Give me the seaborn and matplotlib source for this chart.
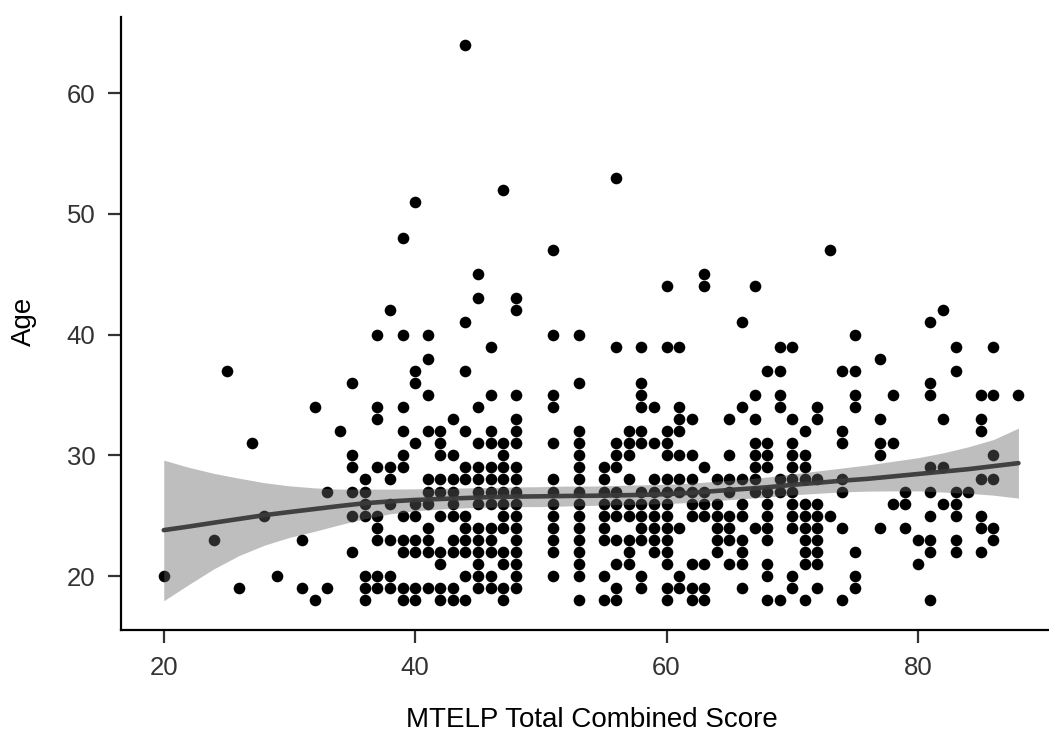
import matplotlib
matplotlib.use("Agg")
import matplotlib.pyplot as plt
import numpy as np
import pandas as pd
import seaborn as sns

age_18 = [32,36,39,40,42,43,44,47,53,55,56,60,62,63,68,69,71,74,81]
age_19 = [26,31,33,36,37,38,39,40,41,42,43,45,46,47,48,56,58,60,61,62,63,66,70,72,75]
age_20 = [20,29,36,37,38,44,45,46,48,51,53,55,58,61,68,70,75]
age_21 = [42,45,47,48,53,56,57,60,62,63,65,66,68,71,72,80]
age_22 = [35,39,40,41,42,43,44,45,46,47,48,51,53,57,59,60,64,66,71,72,75,81,83,85]
age_23 = [24,31,37,38,39,40,41,43,44,45,46,48,51,53,55,56,57,58,59,60,64,65,66,68,71,72,80,81,83,86]
age_24 = [37,41,44,45,46,47,48,51,53,55,58,59,60,61,64,65,67,68,70,71,72,74,77,79,85,86]
age_25 = [28,35,36,37,39,40,42,43,44,47,48,51,53,55,56,57,58,59,60,62,63,64,65,66,68,70,71,72,73,81,83,85]
age_26 = [36,38,40,41,43,45,46,47,48,51,53,55,56,57,58,59,60,62,63,64,66,68,70,71,72,78,79,82,83]
age_27 = [33,35,36,41,42,43,45,46,47,48,51,53,55,56,58,59,60,61,62,63,65,67,68,69,70,74,79,81,83,84]
age_28 = [36,38,41,42,43,44,45,46,47,48,51,53,55,57,59,60,61,62,64,65,66,67,69,70,71,72,74,85,86]
age_29 = [35,37,38,39,44,45,46,47,48,53,55,56,63,67,68,70,71,81,82]
age_30 = [35,39,42,43,47,53,56,57,60,61,62,65,67,68,70,71,77,86]
age_31 = [27,40,42,45,46,47,48,51,53,56,57,58,59,60,67,68,70,74,77,78]
age_32 = [34,39,41,42,44,46,48,53,57,58,60,61,71,74,85]
age_33 = [37,43,48,61,62,65,67,70,72,77,82,85]
age_34 = [32,37,39,45,51,58,59,61,66,69,72,75]
age_35 = [41,46,48,51,58,67,69,75,78,81,85,86,88]
age_36 = [35,40,53,58,81]
age_37 = [25,40,44,68,69,74,75,83]
age_38 = [41,77]
age_39 = [46,56,58,60,61,69,70,83,86]
age_40 = [37,39,41,51,53,75]
age_41 = [44,66,81]
age_42 = [38,48,82]
age_43 = [45,48]
age_44 = [60,63,67]
age_45 = [45,63]
age_47 = [51,73]
age_48 = [39]
age_51 = [40]
age_52 = [47]
age_53 = [56]
age_64 = [44]

fit_score = [20,22,24,26,28,30,32,34,36,38,40,42,44,46,48,50,52,54,56,58,60,62,64,66,68,70,72,74,76,78,80,82,84,86,88]
fit_age = [23.8,24.1,24.42,24.73,25.04,25.3,25.55,25.8,26.03,26.18,26.3,26.38,26.46,26.54,26.58,26.6,26.63,26.65,26.68,26.72,26.78,26.9,27.05,27.2,27.35,27.55,27.72,27.9,28.05,28.25,28.45,28.65,28.85,29.1,29.35]
fit_upper = [29.6,29.0,28.5,28.1,27.73,27.47,27.3,27.2,27.2,27.2,27.22,27.25,27.3,27.33,27.38,27.4,27.45,27.45,27.5,27.55,27.6,27.7,27.85,28.0,28.2,28.45,28.7,28.95,29.2,29.5,29.8,30.2,30.7,31.3,32.25]
fit_lower = [17.95,19.3,20.6,21.7,22.55,23.2,23.7,24.25,24.75,25.15,25.4,25.55,25.65,25.7,25.75,25.75,25.8,25.85,25.9,25.95,26.0,26.1,26.25,26.4,26.55,26.72,26.85,26.97,27.03,27.05,27.05,26.95,26.85,26.7,26.45]

x_ticks = [20, 40, 60, 80]
y_ticks = [20, 30, 40, 50, 60]

rows = []
for name, vals in list(globals().items()):
    if name.startswith("age_") and name[4:].isdigit():
        rows += [(s, int(name[4:])) for s in vals]
df = pd.DataFrame(rows, columns=["score", "age"])
fit = pd.DataFrame({"score": fit_score, "age": fit_age})

sns.set_theme(style="ticks")
plt.rcParams["font.family"] = ["Liberation Sans", "DejaVu Sans"]

W, H = 1049, 731
fig = plt.figure(figsize=(W / 100, H / 100), dpi=100, facecolor="white")
L, R, T, B = 121, 1048, 17, 630
ax = fig.add_axes([L / W, 1 - B / H, (R - L) / W, (B - T) / H])

sns.scatterplot(data=df, x="score", y="age", color="black", s=70, linewidth=0, ax=ax, zorder=2, clip_on=False)
ax.fill_between(fit_score, fit_lower, fit_upper, color="#666666", alpha=0.42, linewidth=0, zorder=3)
sns.lineplot(data=fit, x="score", y="age", color="#3a3a3a", alpha=0.95, linewidth=3.3, ax=ax, zorder=4, errorbar=None)

ax.set_xlim(16.6, 90.35)
ax.set_ylim(15.53, 66.3)
ax.set_xticks(x_ticks)
ax.set_yticks(y_ticks)
ax.tick_params(axis="both", labelsize=18.5, length=9.5, width=1.6, color="#333333", labelcolor="#333333")
ax.tick_params(axis="x", pad=9)
ax.tick_params(axis="y", pad=9)
for side in ("top", "right"):
    ax.spines[side].set_visible(False)
for side in ("left", "bottom"):
    ax.spines[side].set_linewidth(1.6)
    ax.spines[side].set_color("black")

ax.set_xlabel("MTELP Total Combined Score", fontsize=20, color="black")
ax.set_ylabel("Age", fontsize=20, color="black")
ax.xaxis.set_label_coords((591.5 - L) / (R - L), -(720 - B) / (B - T), transform=ax.transAxes)
ax.xaxis.label.set_verticalalignment("center")
ax.yaxis.set_label_coords(-(L - 24) / (R - L), (B - 321) / (B - T), transform=ax.transAxes)
ax.yaxis.label.set_verticalalignment("center")

fig.savefig("out.png", dpi=100)
